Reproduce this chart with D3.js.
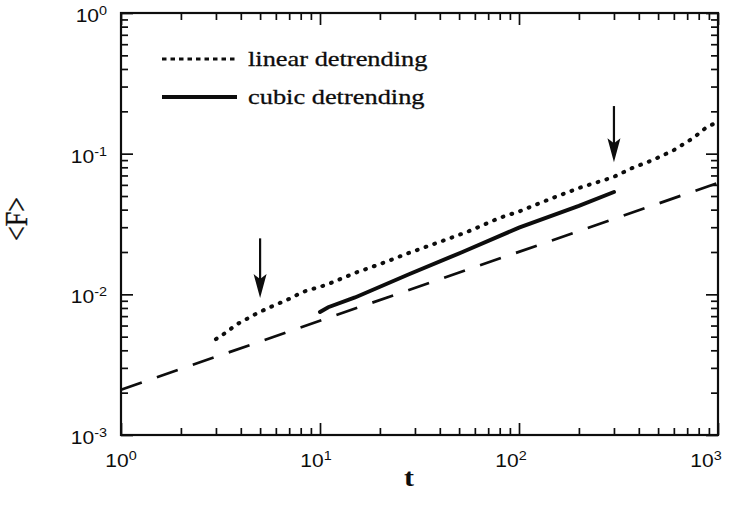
<!DOCTYPE html>
<html>
<head>
<meta charset="utf-8">
<script src="https://cdn.jsdelivr.net/npm/d3@7"></script>
<style>
  body { margin: 0; background: #fff; }
</style>
</head>
<body>
<div class="container"></div>
<script>
// linear detrending (dotted curve)
const linT = [3.0, 3.4, 3.8, 4.3, 4.8, 5.6, 6.8, 8.2, 10.8, 15, 20, 28, 40, 55, 80, 100, 148, 200, 297, 370, 470, 600, 750, 880, 1000];
const linF = [0.0048, 0.0054, 0.0061, 0.0067, 0.0073, 0.0081, 0.0091, 0.0104, 0.0117, 0.0142, 0.0164, 0.0197, 0.0236, 0.0278, 0.0350, 0.0388, 0.0485, 0.057, 0.068, 0.079, 0.090, 0.106, 0.129, 0.155, 0.168];
// cubic detrending (solid curve)
const cubT = [10, 11, 15, 28, 52, 100, 200, 300];
const cubF = [0.0075, 0.0081, 0.0095, 0.0139, 0.0200, 0.0298, 0.0425, 0.0534];
// reference line (dashed)
const refT = [1, 1000];
const refF = [0.0021, 0.062];
// arrows marking crossovers
const arrowT = [5, 300];
const arrowTop = [0.025, 0.218];
const arrowTip = [0.0094, 0.087];
// tick labels (powers of ten)
const xExp = ["0", "1", "2", "3"];
const yExp = ["0", "-1", "-2", "-3"];
const legendLabels = ["linear detrending", "cubic detrending"];

const width = 739, height = 509;
const svg = d3.select(".container").append("svg")
  .attr("width", width)
  .attr("height", height)
  .style("background", "#fff");

const x = d3.scaleLog().domain([1, 1000]).range([121, 718]);
const y = d3.scaleLog().domain([1e-3, 1]).range([435, 13]);

const SX = 1.2; // the scan is stretched horizontally
const ink = "#0d0d0d";
const sans = "'Liberation Sans', Arial, sans-serif";
const serif = "'Liberation Serif', 'Times New Roman', serif";

const isMajor = v => Math.abs(Math.log10(v) - Math.round(Math.log10(v))) < 1e-9;
const xTicks = x.ticks();
const yTicks = y.ticks();
const xMajor = xTicks.filter(isMajor), xMinor = xTicks.filter(v => !isMajor(v));
const yMajor = yTicks.filter(isMajor), yMinor = yTicks.filter(v => !isMajor(v));

function tickAxis(axisFn, scale, vals, len, transform) {
  const g = svg.append("g")
    .attr("transform", transform)
    .call(axisFn(scale).tickValues(vals).tickSizeInner(-len).tickSizeOuter(0).tickFormat(""));
  g.select(".domain").remove();
  g.selectAll(".tick line").attr("stroke", ink).attr("stroke-width", 1.7);
}
const [x0, x1] = x.range(), [y0, y1] = y.range();
tickAxis(d3.axisBottom, x, xMajor, 12, `translate(0,${y0})`);
tickAxis(d3.axisBottom, x, xMinor, 7, `translate(0,${y0})`);
tickAxis(d3.axisTop, x, xMajor, 12, `translate(0,${y1})`);
tickAxis(d3.axisTop, x, xMinor, 7, `translate(0,${y1})`);
tickAxis(d3.axisLeft, y, yMajor, 12, `translate(${x0},0)`);
tickAxis(d3.axisLeft, y, yMinor, 7, `translate(${x0},0)`);
tickAxis(d3.axisRight, y, yMajor, 12, `translate(${x1},0)`);
tickAxis(d3.axisRight, y, yMinor, 7, `translate(${x1},0)`);

svg.append("rect")
  .attr("x", x0).attr("y", y1)
  .attr("width", x1 - x0).attr("height", y0 - y1)
  .attr("fill", "none").attr("stroke", ink).attr("stroke-width", 2.2);

// tick labels
function powLabel(px, py, exp, anchor) {
  const g = svg.append("g").attr("transform", `translate(${px},${py}) scale(${SX},1)`);
  const t = g.append("text")
    .attr("text-anchor", anchor)
    .attr("font-family", sans)
    .attr("font-size", 17.5)
    .attr("fill", ink);
  t.append("tspan").text("10");
  t.append("tspan").attr("dy", -7).attr("font-size", 12).text(exp);
}
xExp.forEach((e, i) => powLabel(x(Math.pow(10, +e)) - 4 * i, 467, e, "middle"));
yExp.forEach(e => powLabel(107, y(Math.pow(10, +e)) + 9, e, "end"));

// axis titles
svg.append("g").attr("transform", `translate(409,486) scale(${SX},1)`)
  .append("text")
  .attr("text-anchor", "middle")
  .attr("font-family", serif)
  .attr("font-weight", "bold")
  .attr("font-size", 25)
  .attr("fill", ink)
  .text("t");

svg.append("text")
  .attr("transform", "translate(27,219) rotate(-90) scale(1,1.2)")
  .attr("text-anchor", "middle")
  .attr("font-family", serif)
  .attr("font-size", 26)
  .attr("fill", ink)
  .attr("stroke", ink)
  .attr("stroke-width", 0.3)
  .text("<F>");

// data lines
const line = d3.line().x(d => x(d[0])).y(d => y(d[1]));

svg.append("path")
  .datum(refT.map((t, i) => [t, refF[i]]))
  .attr("d", line)
  .attr("fill", "none")
  .attr("stroke", ink)
  .attr("stroke-width", 2.7)
  .attr("stroke-dasharray", "22,16");

svg.append("path")
  .datum(cubT.map((t, i) => [t, cubF[i]]))
  .attr("d", line)
  .attr("fill", "none")
  .attr("stroke", ink)
  .attr("stroke-width", 4)
  .attr("stroke-linecap", "round");

svg.append("path")
  .datum(linT.map((t, i) => [t, linF[i]]))
  .attr("d", line)
  .attr("fill", "none")
  .attr("stroke", ink)
  .attr("stroke-width", 4)
  .attr("stroke-linecap", "round")
  .attr("stroke-dasharray", "0.8,8.4");

// arrows
arrowT.forEach((t, i) => {
  const ax = x(t), top = y(arrowTop[i]), tip = y(arrowTip[i]);
  svg.append("line")
    .attr("x1", ax).attr("x2", ax)
    .attr("y1", top).attr("y2", tip - 10)
    .attr("stroke", ink).attr("stroke-width", 2.2);
  svg.append("path")
    .attr("d", `M${ax},${tip} L${ax - 6.5},${tip - 24} L${ax},${tip - 19} L${ax + 6.5},${tip - 24} Z`)
    .attr("fill", ink);
});

// legend
const legendY = [59, 97];
const legendStyles = [
  { width: 3.2, dash: "4.5,4" },
  { width: 3.8, dash: null }
];
legendLabels.forEach((lab, i) => {
  svg.append("line")
    .attr("x1", 162).attr("x2", 237)
    .attr("y1", legendY[i]).attr("y2", legendY[i])
    .attr("stroke", ink)
    .attr("stroke-width", legendStyles[i].width)
    .attr("stroke-dasharray", legendStyles[i].dash);
  svg.append("g").attr("transform", `translate(248,${legendY[i] + 7}) scale(${SX},1)`)
    .append("text")
    .attr("font-family", serif)
    .attr("font-size", 22)
    .attr("fill", ink)
    .attr("stroke", ink)
    .attr("stroke-width", 0.3)
    .text(lab);
});
</script>
</body>
</html>
